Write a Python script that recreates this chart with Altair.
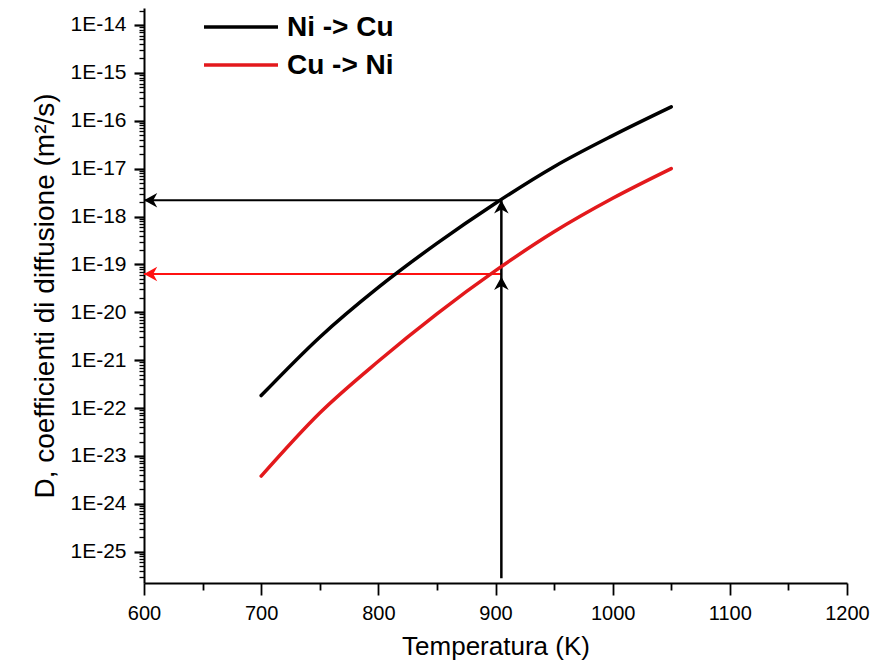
import altair as alt
import pandas as pd

# ---- data ----
temps = [700, 750, 800, 850, 900, 950, 1000, 1050]
d_ni_cu = [1.82e-22, 3.02e-21, 3.31e-20, 2.75e-19, 1.9e-18, 1.1e-17, 4.9e-17, 1.95e-16]
d_cu_ni = [3.8e-24, 7.9e-23, 9.5e-22, 9.3e-21, 7.4e-20, 4.8e-19, 2.4e-18, 1.0e-17]
series_names = ["Ni -> Cu", "Cu -> Ni"]
series_colors = ["#000000", "#e3191c"]

# guide arrows (read-off construction at T = 905 K)
guide_T = 905
guide_left = 600
guide_ni_cu = 2.18e-18
guide_cu_ni = 6.3e-20
guide_bottom = 2.8e-26
guide_head_low = 5.5e-20
arrow_red = "#ff1111"

x_ticks = list(range(600, 1201, 50))
y_min = 10 ** -25.654
y_max = 10 ** -13.645
y_ticks = [m * 10.0 ** e for e in range(-26, -13) for m in range(1, 10)]
y_ticks = [v for v in y_ticks if y_min <= v <= y_max]

curves = pd.DataFrame({
    "T": temps * 2,
    "D": d_ni_cu + d_cu_ni,
    "series": [series_names[0]] * len(temps) + [series_names[1]] * len(temps),
})

segments = pd.DataFrame({
    "x": [guide_T, guide_T, guide_T],
    "x2": [guide_left, guide_left, guide_T],
    "y": [guide_ni_cu, guide_cu_ni, guide_bottom],
    "y2": [guide_ni_cu, guide_cu_ni, guide_ni_cu],
    "color": ["#000000", arrow_red, "#000000"],
    "width": [2, 2, 2.5],
})

LEFT = "M0,0 L1,-0.55 L0.7,0 L1,0.55 Z"
UP = "M0,0 L0.55,1 L0,0.7 L-0.55,1 Z"
heads = pd.DataFrame({
    "x": [guide_left, guide_left, guide_T, guide_T],
    "y": [guide_ni_cu, guide_cu_ni, guide_ni_cu, guide_head_low],
    "shape": [LEFT, LEFT, UP, UP],
    "color": ["#000000", arrow_red, "#000000", "#000000"],
})

major_y = "abs(log(datum.value)/LN10 - round(log(datum.value)/LN10)) < 0.001"
major_x = "datum.value % 100 == 0"

x_scale = alt.Scale(domain=[600, 1200], nice=False, zero=False)
y_scale = alt.Scale(type="log", domain=[y_min, y_max], nice=False)

x_axis = alt.Axis(
    values=x_ticks,
    labelExpr="datum.value % 100 == 0 ? datum.label : ''",
    tickSize={"condition": {"test": major_x, "value": 12}, "value": 7},
    tickWidth=1.8,
    title="Temperatura (K)",
    labelFontSize=20,
    titleFontSize=26,
    labelPadding=8,
    titlePadding=10,
    grid=False,
    labelOverlap=False,
    labelFlush=False,
    format="d",
)
y_axis = alt.Axis(
    values=y_ticks,
    labelExpr=f"{major_y} ? '1E' + round(log(datum.value)/LN10) : ''",
    tickSize={"condition": {"test": major_y, "value": 10}, "value": 5},
    tickWidth={"condition": {"test": major_y, "value": 2.2}, "value": 1.3},
    title="D, coefficienti di diffusione (m²/s)",
    labelFontSize=21,
    titleFontSize=28,
    labelPadding=8,
    titlePadding=10,
    grid=False,
    labelOverlap=False,
    labelFlush=False,
)

base_x = alt.X("T:Q", scale=x_scale, axis=x_axis)
base_y = alt.Y("D:Q", scale=y_scale, axis=y_axis)

lines = alt.Chart(curves).mark_line(strokeWidth=3.5, interpolate="monotone", strokeCap="round").encode(
    x=base_x,
    y=base_y,
    color=alt.Color("series:N", scale=alt.Scale(domain=series_names, range=series_colors), legend=None),
    detail="series:N",
)

rules = alt.Chart(segments).mark_rule().encode(
    x=alt.X("x:Q", scale=x_scale),
    x2="x2:Q",
    y=alt.Y("y:Q", scale=y_scale),
    y2="y2:Q",
    color=alt.Color("color:N", scale=None),
    strokeWidth=alt.StrokeWidth("width:Q", scale=None),
)

arrowheads = alt.Chart(heads).mark_point(filled=True, size=700, opacity=1, strokeWidth=0).encode(
    x=alt.X("x:Q", scale=x_scale),
    y=alt.Y("y:Q", scale=y_scale),
    shape=alt.Shape("shape:N", scale=None),
    color=alt.Color("color:N", scale=None),
)

legend_layers = []
for i, (name, col) in enumerate(zip(series_names, series_colors)):
    ly = 19 + 38 * i
    legend_layers.append(
        alt.Chart(pd.DataFrame({"label": [name]})).mark_rule(color=col, strokeWidth=3.5).encode(
            x=alt.value(60), x2=alt.value(134), y=alt.value(ly)
        )
    )
    legend_layers.append(
        alt.Chart(pd.DataFrame({"label": [name]})).mark_text(
            align="left", baseline="middle", fontSize=28, fontWeight="bold",
            font="Liberation Sans", color="#000000"
        ).encode(x=alt.value(143), y=alt.value(ly + 1), text="label:N")
    )

chart = alt.layer(rules, lines, arrowheads, *legend_layers).properties(
    width=703,
    height=575,
    autosize=alt.AutoSizeParams(type="none"),
    padding={"left": 136, "top": 0, "right": 24, "bottom": 81},
).configure_view(
    stroke=None
).configure_axis(
    labelFont="Liberation Sans",
    titleFont="Liberation Sans",
    titleFontWeight="normal",
    labelColor="#000000",
    titleColor="#000000",
    domainColor="#000000",
    tickColor="#000000",
    domainWidth=2,
)

chart.save("out.html", embed_options={"renderer": "svg", "actions": False})
